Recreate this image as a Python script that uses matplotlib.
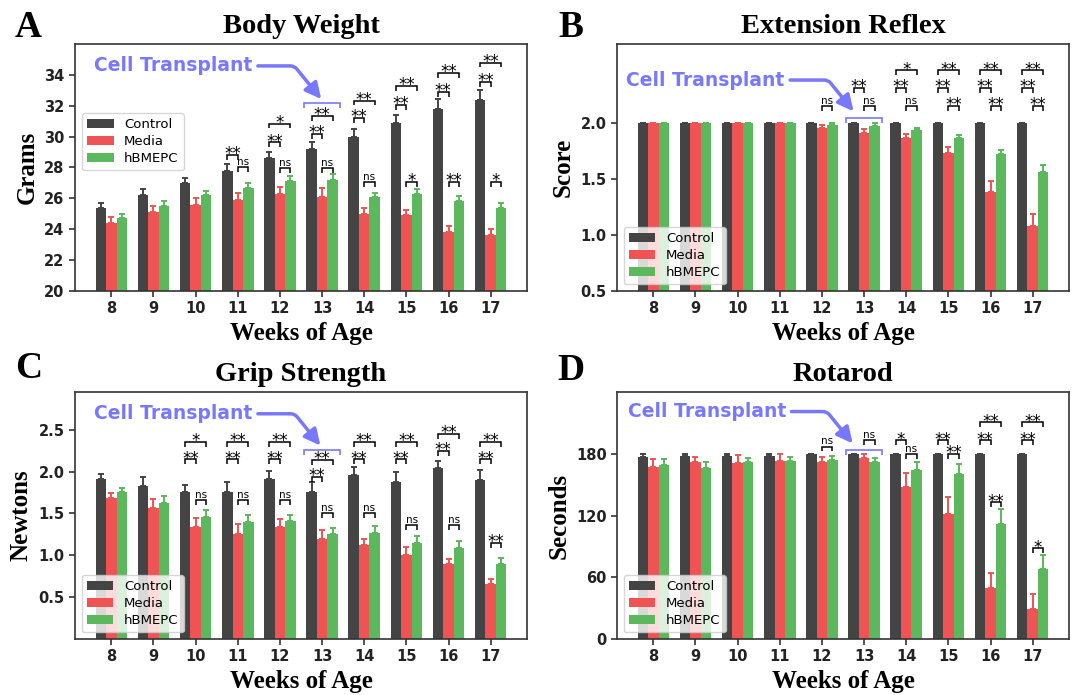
import matplotlib.pyplot as plt

# ---- data ----
weeks = [8, 9, 10, 11, 12, 13, 14, 15, 16, 17]
groups = ["Control", "Media", "hBMEPC"]
colors = ["#444444", "#ef5353", "#5cb85c"]
blue = "#7878ff"

# A - body weight (grams)
weight_control = [25.4, 26.2, 27.0, 27.8, 28.6, 29.2, 30.0, 30.9, 31.8, 32.4]
weight_control_err = [0.32, 0.38, 0.34, 0.43, 0.43, 0.43, 0.49, 0.50, 0.63, 0.61]
weight_media = [24.4, 25.1, 25.6, 25.9, 26.3, 26.1, 25.0, 24.9, 23.8, 23.6]
weight_media_err = [0.38, 0.39, 0.41, 0.43, 0.45, 0.60, 0.35, 0.36, 0.43, 0.41]
weight_hbmepc = [24.7, 25.5, 26.2, 26.7, 27.1, 27.2, 26.1, 26.3, 25.8, 25.4]
weight_hbmepc_err = [0.32, 0.35, 0.30, 0.32, 0.35, 0.35, 0.28, 0.31, 0.34, 0.30]

# B - extension reflex (score)
reflex_control = [2.0, 2.0, 2.0, 2.0, 2.0, 2.0, 2.0, 2.0, 2.0, 2.0]
reflex_control_err = [0, 0, 0, 0, 0, 0, 0, 0, 0, 0]
reflex_media = [2.0, 2.0, 2.0, 2.0, 1.95, 1.91, 1.86, 1.73, 1.38, 1.08]
reflex_media_err = [0, 0, 0, 0, 0.03, 0.035, 0.04, 0.055, 0.10, 0.11]
reflex_hbmepc = [2.0, 2.0, 2.0, 2.0, 1.98, 1.97, 1.93, 1.86, 1.72, 1.56]
reflex_hbmepc_err = [0, 0, 0, 0, 0.012, 0.024, 0.021, 0.032, 0.038, 0.065]

# C - grip strength (newtons)
grip_control = [1.91, 1.83, 1.75, 1.75, 1.91, 1.75, 1.96, 1.88, 2.04, 1.90]
grip_control_err = [0.06, 0.10, 0.09, 0.12, 0.10, 0.13, 0.10, 0.12, 0.09, 0.12]
grip_media = [1.68, 1.57, 1.34, 1.26, 1.34, 1.20, 1.12, 1.00, 0.90, 0.655]
grip_media_err = [0.06, 0.10, 0.10, 0.115, 0.09, 0.10, 0.08, 0.10, 0.055, 0.065]
grip_hbmepc = [1.75, 1.63, 1.46, 1.40, 1.41, 1.26, 1.27, 1.15, 1.09, 0.90]
grip_hbmepc_err = [0.05, 0.08, 0.085, 0.08, 0.07, 0.07, 0.08, 0.075, 0.085, 0.065]

# D - rotarod (seconds)
rotarod_control = [176.5, 178, 177.7, 178, 180, 180, 180, 180, 180, 180]
rotarod_control_err = [3.2, 2.0, 1.6, 1.7, 0, 0, 0, 0, 0, 0]
rotarod_media = [167, 171.6, 171.3, 172.9, 171.6, 175.8, 147.3, 121.4, 49.5, 29.5]
rotarod_media_err = [7.8, 5.2, 7.7, 6.8, 5.2, 3.5, 13.9, 16.8, 14.6, 14.2]
rotarod_hbmepc = [169.3, 165.7, 171.9, 172.9, 173.5, 172.2, 163.8, 160.6, 112, 68]
rotarod_hbmepc_err = [5.2, 5.9, 3.6, 4.2, 3.9, 3.9, 8.1, 9.7, 14.3, 13.9]

# significance: (week, pair, label, bracket level)
weight_sig = [
    (11, "cm", "**", 28.83), (11, "mg", "ns", 28.0),
    (12, "cm", "**", 29.63), (12, "cg", "*", 30.85), (12, "mg", "ns", 27.95),
    (13, "cm", "**", 30.17), (13, "cg", "**", 31.35), (13, "mg", "ns", 27.95),
    (14, "cm", "**", 31.2), (14, "cg", "**", 32.34), (14, "mg", "ns", 27.05),
    (15, "cm", "**", 32.06), (15, "cg", "**", 33.3), (15, "mg", "*", 27.05),
    (16, "cm", "**", 32.88), (16, "cg", "**", 34.1), (16, "mg", "**", 27.05),
    (17, "cm", "**", 33.56), (17, "cg", "**", 34.8), (17, "mg", "*", 27.05),
]
reflex_sig = [
    (12, "mg", "ns", 2.15),
    (13, "cm", "**", 2.31), (13, "mg", "ns", 2.15),
    (14, "cg", "*", 2.465), (14, "cm", "**", 2.31), (14, "mg", "ns", 2.15),
    (15, "cg", "**", 2.465), (15, "cm", "**", 2.31), (15, "mg", "**", 2.15),
    (16, "cg", "**", 2.465), (16, "cm", "**", 2.31), (16, "mg", "**", 2.15),
    (17, "cg", "**", 2.465), (17, "cm", "**", 2.31), (17, "mg", "**", 2.15),
]
grip_sig = [
    (10, "cg", "*", 2.353), (10, "cm", "**", 2.145), (10, "mg", "ns", 1.655),
    (11, "cg", "**", 2.353), (11, "cm", "**", 2.145), (11, "mg", "ns", 1.655),
    (12, "cg", "**", 2.353), (12, "cm", "**", 2.145), (12, "mg", "ns", 1.655),
    (13, "cg", "**", 2.135), (13, "cm", "**", 1.937), (13, "mg", "ns", 1.5),
    (14, "cg", "**", 2.353), (14, "cm", "**", 2.145), (14, "mg", "ns", 1.5),
    (15, "cg", "**", 2.353), (15, "cm", "**", 2.145), (15, "mg", "ns", 1.357),
    (16, "cg", "**", 2.452), (16, "cm", "**", 2.25), (16, "mg", "ns", 1.357),
    (17, "cg", "**", 2.353), (17, "cm", "**", 2.145), (17, "mg", "**", 1.151),
]
rotarod_sig = [
    (12, "mg", "ns", 187),
    (13, "mg", "ns", 193),
    (14, "cm", "*", 193), (14, "mg", "ns", 180),
    (15, "cm", "**", 193), (15, "mg", "**", 180),
    (16, "cg", "**", 210.4), (16, "cm", "**", 193), (16, "mg", "**", 132.7),
    (17, "cg", "**", 210.4), (17, "cm", "**", 193), (17, "mg", "*", 88),
]

offsets = {"c": -0.25, "m": 0.0, "g": 0.25}
serif = "Liberation Serif"


def bracket(ax, x1, x2, y, leg, color, lw):
    ax.plot([x1, x1, x2, x2], [y - leg, y, y, y - leg], color=color, lw=lw,
            solid_capstyle="butt", solid_joinstyle="miter", clip_on=False)


def draw_panel(ax, title, ylabel, means, errs, ylim, yticks, sig,
               text_pos, tip, blue_y, legend_kw):
    for i, (m, e) in enumerate(zip(means, errs)):
        x = [w + (i - 1) * 0.25 for w in weeks]
        ax.bar(x, m, 0.25, color=colors[i], label=groups[i],
               yerr=[[0] * len(e), e],
               error_kw=dict(ecolor=colors[i], elinewidth=1.4, capsize=2, capthick=1.4))

    ax.set_ylim(*ylim)
    ax.set_yticks(yticks)
    ax.set_xticks(weeks)
    for s in ax.spines.values():
        s.set_color("#333333")
        s.set_linewidth(1.2)
    ax.tick_params(colors="#222222", width=1.1, length=4, labelsize=10.5)
    for t in ax.get_xticklabels() + ax.get_yticklabels():
        t.set_fontweight("bold")

    ax.set_title(title, fontfamily=serif, fontweight="bold", fontsize=20.5, pad=8)
    ax.set_xlabel("Weeks of Age", fontfamily=serif, fontweight="bold", fontsize=18)
    ax.set_ylabel(ylabel, fontfamily=serif, fontweight="bold", fontsize=18)

    leg = (ylim[1] - ylim[0]) * 0.02
    for week, pair, label, level in sig:
        x1 = week + offsets[pair[0]]
        x2 = week + offsets[pair[1]]
        bracket(ax, x1, x2, level, leg, "black", 1.1)
        if label == "ns":
            ax.annotate(label, ((x1 + x2) / 2, level), xytext=(0, 1.5),
                        textcoords="offset points", ha="center", va="baseline",
                        fontsize=7.5)
        else:
            ax.annotate(label, ((x1 + x2) / 2, level), xytext=(0, -3),
                        textcoords="offset points", ha="center", va="baseline",
                        fontsize=12)

    # transplant marker
    bracket(ax, 12.58, 13.42, blue_y, leg, blue, 1.2)
    ax.annotate("Cell Transplant", xy=tip, xytext=text_pos, ha="left", va="center",
                fontsize=13.5, fontweight="bold", color=blue,
                arrowprops=dict(arrowstyle="-|>", color=blue, lw=2.5, mutation_scale=24,
                                shrinkB=0,
                                connectionstyle="angle,angleA=0,angleB=-51,rad=4"))

    ax.legend(fontsize=9.5, labelspacing=0.3, **legend_kw)


fig = plt.figure(figsize=(10.77, 6.95), dpi=100)
W, H = 1077, 695
aw, ah = 452 / W, 247 / H
axA = fig.add_axes([75 / W, 1 - 291 / H, aw, ah])
axB = fig.add_axes([617 / W, 1 - 291 / H, aw, ah])
axC = fig.add_axes([75 / W, 1 - 639 / H, aw, ah])
axD = fig.add_axes([617 / W, 1 - 639 / H, aw, ah])

draw_panel(axA, "Body Weight", "Grams",
           [weight_control, weight_media, weight_hbmepc],
           [weight_control_err, weight_media_err, weight_hbmepc_err],
           (20, 36), [20, 22, 24, 26, 28, 30, 32, 34], weight_sig,
           (7.59, 34.58), (12.98, 32.43), 32.17,
           dict(loc="upper left", bbox_to_anchor=(0.0155, 0.721), borderaxespad=0))
draw_panel(axB, "Extension Reflex", "Score",
           [reflex_control, reflex_media, reflex_hbmepc],
           [reflex_control_err, reflex_media_err, reflex_hbmepc_err],
           (0.5, 2.7), [0.5, 1.0, 1.5, 2.0], reflex_sig,
           (7.36, 2.379), (12.75, 2.10), 2.044,
           dict(loc="lower left"))
draw_panel(axC, "Grip Strength", "Newtons",
           [grip_control, grip_media, grip_hbmepc],
           [grip_control_err, grip_media_err, grip_hbmepc_err],
           (0, 2.95), [0.5, 1.0, 1.5, 2.0, 2.5], grip_sig,
           (7.59, 2.69), (12.96, 2.31), 2.253,
           dict(loc="lower left"))
draw_panel(axD, "Rotarod", "Seconds",
           [rotarod_control, rotarod_media, rotarod_hbmepc],
           [rotarod_control_err, rotarod_media_err, rotarod_hbmepc_err],
           (0, 240), [0, 60, 120, 180], rotarod_sig,
           (7.39, 221), (12.73, 190), 184,
           dict(loc="lower left"))

for letter, x, y in [("A", 15, 37), ("B", 558, 37), ("C", 15, 378), ("D", 557, 380)]:
    fig.text(x / W, 1 - y / H, letter, fontfamily=serif, fontweight="bold",
             fontsize=27, va="baseline", ha="left")

fig.savefig("out.png", dpi=100)
